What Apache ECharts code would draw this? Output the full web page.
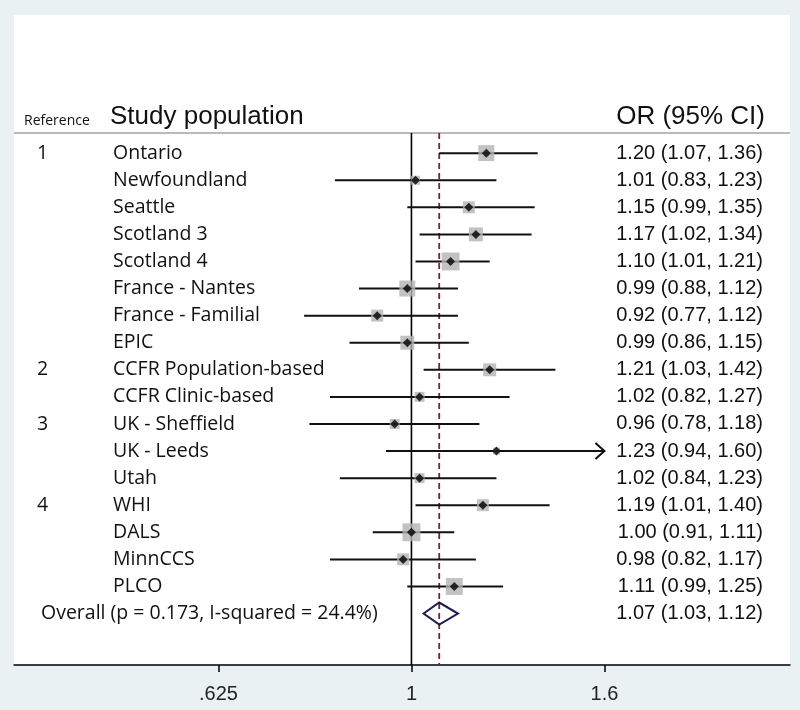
<!DOCTYPE html>
<html><head><meta charset="utf-8">
<script src="https://cdn.jsdelivr.net/npm/echarts@6/dist/echarts.min.js"></script>
<style>html,body{margin:0;padding:0;background:#e9f1f3}#c{width:800px;height:710px}</style>
</head><body><div id="c"></div>
<script>
const refs = ['1','','','','','','','','2','','3','','','4','','',''];
const studies = ['Ontario','Newfoundland','Seattle','Scotland 3','Scotland 4','France - Nantes','France - Familial','EPIC','CCFR Population-based','CCFR Clinic-based','UK - Sheffield','UK - Leeds','Utah','WHI','DALS','MinnCCS','PLCO'];
const orEst = [1.20,1.01,1.15,1.17,1.10,0.99,0.92,0.99,1.21,1.02,0.96,1.23,1.02,1.19,1.00,0.98,1.11];
const ciLow = [1.07,0.83,0.99,1.02,1.01,0.88,0.77,0.86,1.03,0.82,0.78,0.94,0.84,1.01,0.91,0.82,0.99];
const ciHigh = [1.36,1.23,1.35,1.34,1.21,1.12,1.12,1.15,1.42,1.27,1.18,1.60,1.23,1.40,1.11,1.17,1.25];
const weights = [8.5,2.7,4.8,6.5,10.7,8.5,4.8,6.5,5.6,3.3,3.3,1.6,3.3,4.8,10.7,4.8,9.6];
const overallLabel = 'Overall (p = 0.173, I-squared = 24.4%)';
const overall = [1.07,1.03,1.12];
const tickValues = [0.625,1,1.6];
const tickLabels = ['.625','1','1.6'];

const L = Math.log;
const fmt = v => v.toFixed(2);
const nRows = studies.length;
const overallRow = nRows;
const headerRow = -1.35, headerLineRow = -0.74;
const xMin = -0.968, xMax = 0.922, yMin = -5.1, yMax = 18.9;
const capHigh = tickValues[tickValues.length-1];

const NAME_FONT = '"Open Sans", sans-serif';
const VAL_FONT = '"Liberation Sans", Arial, sans-serif';

const ciData = studies.map((s,i)=>[L(ciLow[i]), L(Math.min(ciHigh[i],capHigh)), i, ciHigh[i]>=capHigh?1:0]);
const boxData = studies.map((s,i)=>[L(orEst[i]), i, weights[i]]);
const dotData = studies.map((s,i)=>[L(orEst[i]), i]);
const textData = studies.map((s,i)=>[0, i]);

const chart = echarts.init(document.getElementById('c'), null, {renderer:'canvas'});
chart.setOption({
  backgroundColor:'#e9f1f3',
  animation:false,
  grid:{left:14, right:10, top:15, bottom:45, show:true, backgroundColor:'#ffffff', borderWidth:0},
  xAxis:{type:'value', position:'bottom', min:xMin, max:xMax,
    axisLine:{show:true, onZero:false, lineStyle:{color:'#000', width:1.5}},
    axisTick:{show:true, length:7, lineStyle:{color:'#000', width:1.5}, customValues: tickValues.map(L)},
    axisLabel:{show:true, margin:19, color:'#222', fontSize:20, fontFamily:VAL_FONT,
      customValues: tickValues.map(L),
      formatter:(v)=>{ let k=0,d=1e9; tickValues.forEach((t,j)=>{const dd=Math.abs(L(t)-v); if(dd<d){d=dd;k=j;}}); return tickLabels[k]; }},
    splitLine:{show:false}},
  yAxis:{type:'value', inverse:true, min:yMin, max:yMax, show:false},
  series:[
    {type:'custom', silent:true, z:1, data:[[0]],
      renderItem:(p,api)=>{
        const top = api.coord([0, headerLineRow])[1];
        const bot = api.coord([0, yMax])[1];
        const x1 = api.coord([0, 0])[0];
        const xo = api.coord([L(overall[0]), 0])[0];
        const xl = api.coord([xMin, 0])[0], xr = api.coord([xMax,0])[0];
        return {type:'group', children:[
          {type:'line', shape:{x1:xl,y1:top,x2:xr,y2:top}, style:{stroke:'#a3a3a3', lineWidth:1.5}},
          {type:'line', shape:{x1:x1,y1:top,x2:x1,y2:bot}, style:{stroke:'#000', lineWidth:1.6}},
          {type:'line', shape:{x1:xo,y1:top,x2:xo,y2:bot}, style:{stroke:'#6e2636', lineWidth:1.8, lineDash:[6,4]}}
        ]};
      }},
    {type:'custom', silent:true, z:2, data:ciData,
      renderItem:(p,api)=>{
        const a = api.coord([api.value(0), api.value(2)]);
        const b = api.coord([api.value(1), api.value(2)]);
        const ch = [{type:'line', shape:{x1:a[0],y1:a[1],x2:b[0],y2:b[1]}, style:{stroke:'#111', lineWidth:2}}];
        if (api.value(3)) ch.push({type:'polyline', shape:{points:[[b[0]-9,b[1]-8],[b[0],b[1]],[b[0]-9,b[1]+8]]}, style:{stroke:'#111', fill:null, lineWidth:2}});
        return {type:'group', children:ch};
      }},
    {type:'scatter', silent:true, z:3, data:boxData, symbol:'rect',
      symbolSize:(v)=>Math.sqrt(v[2])*5.47, itemStyle:{color:'#b3b3b3'}},
    {type:'scatter', silent:true, z:4, data:dotData, symbol:'diamond', symbolSize:9, itemStyle:{color:'#000'}},
    {type:'custom', silent:true, z:4, data:[[L(overall[1]), L(overall[0]), L(overall[2]), overallRow]],
      renderItem:(p,api)=>{
        const r = api.value(3);
        const lo = api.coord([api.value(0), r]);
        const md = api.coord([api.value(1), r]);
        const hi = api.coord([api.value(2), r]);
        const h = 11;
        return {type:'polygon', shape:{points:[[lo[0],lo[1]],[md[0],md[1]-h],[hi[0],hi[1]],[md[0],md[1]+h]]}, style:{stroke:'#1c1c4e', fill:'rgba(255,255,255,0)', lineWidth:2}};
      }},
    {type:'custom', silent:true, z:5, data:textData,
      renderItem:(p,api)=>{
        const i = p.dataIndex;
        const y = api.coord([0, api.value(1)])[1];
        const ch = [
          {type:'text', x:113, y:y, style:{text:studies[i], fill:'#111', fontSize:19.5, fontFamily:NAME_FONT, align:'left', verticalAlign:'middle'}},
          {type:'text', x:763, y:y, style:{text:fmt(orEst[i])+' ('+fmt(ciLow[i])+', '+fmt(ciHigh[i])+')', fill:'#111', fontSize:20, fontFamily:VAL_FONT, align:'right', verticalAlign:'middle'}}
        ];
        if (refs[i]) ch.push({type:'text', x:37, y:y, style:{text:refs[i], fill:'#111', fontSize:19.5, fontFamily:NAME_FONT, align:'left', verticalAlign:'middle'}});
        if (i===0) {
          const yo = api.coord([0, overallRow])[1];
          const yh = api.coord([0, headerRow])[1];
          ch.push({type:'text', x:41, y:yo, style:{text:overallLabel, fill:'#111', fontSize:19.5, fontFamily:NAME_FONT, align:'left', verticalAlign:'middle'}});
          ch.push({type:'text', x:763, y:yo, style:{text:fmt(overall[0])+' ('+fmt(overall[1])+', '+fmt(overall[2])+')', fill:'#111', fontSize:20, fontFamily:VAL_FONT, align:'right', verticalAlign:'middle'}});
          ch.push({type:'text', x:24, y:yh+4, style:{text:'Reference', fill:'#111', fontSize:14, fontFamily:NAME_FONT, align:'left', verticalAlign:'middle'}});
          ch.push({type:'text', x:110, y:yh, style:{text:'Study population', fill:'#111', fontSize:26, fontFamily:VAL_FONT, align:'left', verticalAlign:'middle'}});
          ch.push({type:'text', x:765, y:yh, style:{text:'OR (95% CI)', fill:'#111', fontSize:26, fontFamily:VAL_FONT, align:'right', verticalAlign:'middle'}});
        }
        return {type:'group', children:ch};
      }}
  ]
});
</script></body></html>
